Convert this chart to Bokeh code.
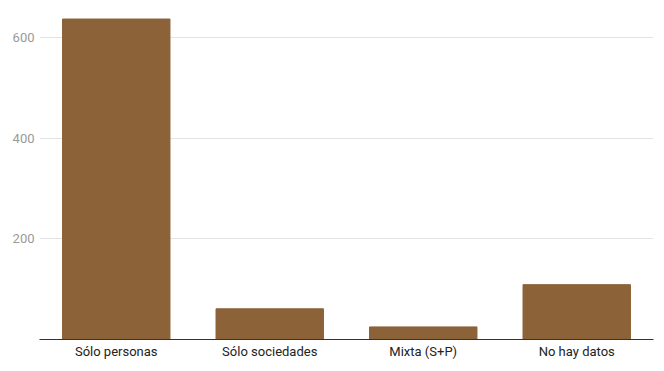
from bokeh.plotting import figure
from bokeh.models import FixedTicker, Range1d, FactorRange
from bokeh.embed import file_html
from bokeh.resources import INLINE

categories = ["Sólo personas", "Sólo sociedades", "Mixta (S+P)", "No hay datos"]
values = [637, 61, 25, 109]
y_ticks = [200, 400, 600]

p = figure(frame_width=614, frame_height=327, x_range=FactorRange(*categories), y_range=Range1d(0, 650),
           output_backend="svg", toolbar_location=None,
           min_border_left=39, min_border_right=3, min_border_top=12, min_border_bottom=4)
p.vbar(x=categories, top=values, width=0.7, color="#8c6239")

p.outline_line_color = None
p.xgrid.grid_line_color = None
p.ygrid.grid_line_color = "#e3e3e3"
p.ygrid.grid_line_width = 1

p.yaxis.ticker = FixedTicker(ticks=y_ticks)
p.yaxis.axis_line_color = None
p.yaxis.major_tick_line_color = None
p.yaxis.minor_tick_line_color = None
p.yaxis.major_label_text_color = "#9a9a9a"
p.yaxis.major_label_text_font = "Roboto"
p.yaxis.major_label_text_font_size = "13px"
p.yaxis.major_label_standoff = -1

p.xaxis.axis_line_color = "#333333"
p.xaxis.axis_line_width = 1
p.xaxis.major_tick_line_color = None
p.xaxis.minor_tick_line_color = None
p.xaxis.major_label_text_color = "#222222"
p.xaxis.major_label_text_font = "Roboto"
p.xaxis.major_label_text_font_size = "13px"
p.xaxis.major_label_standoff = -2

open("out.html", "w").write(file_html(p, INLINE))
